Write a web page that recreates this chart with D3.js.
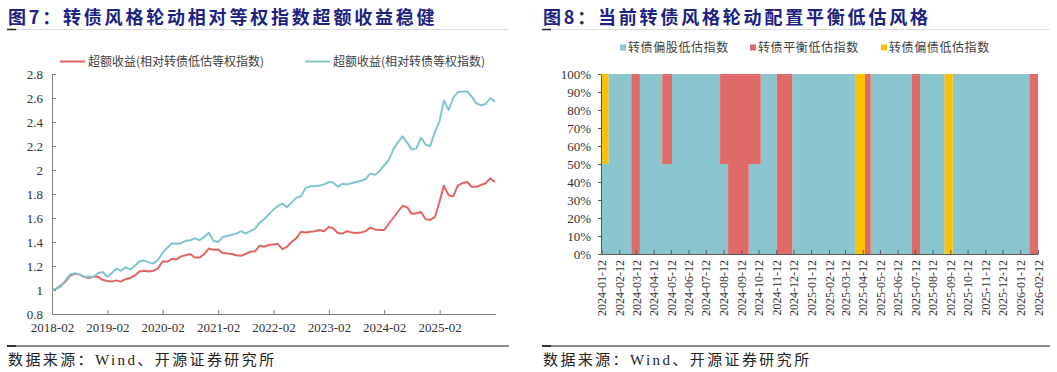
<!DOCTYPE html>
<html>
<head>
<meta charset="utf-8">
<script src="https://cdn.jsdelivr.net/npm/d3@7"></script>
<style>
    body { margin: 0; background: #fff; }
    svg { display: block; }
    text { font-family: "Liberation Serif", "Noto Sans CJK SC", serif; }
    .cjk { font-family: "Noto Sans CJK SC", sans-serif; }
</style>
</head>
<body>
<svg id="chart" width="1057" height="372"></svg>
<script>
'use strict';

const leftTitle = '图7：转债风格轮动相对等权指数超额收益稳健';
const rightTitle = '图8：当前转债风格轮动配置平衡低估风格';
const sourceNote = '数据来源：Wind、开源证券研究所';

// figure 7: monthly excess return, starting 2018-02
const excessNames = ['超额收益(相对转债低估等权指数)', '超额收益(相对转债等权指数)'];
const excessStart = '2018-02';
const excessVsLowVal = [
    1.00, 1.01, 1.04, 1.07, 1.12, 1.135, 1.13, 1.11, 1.10, 1.11, 1.11, 1.085,
    1.075, 1.07, 1.08, 1.07, 1.09, 1.10, 1.12, 1.155, 1.16, 1.155, 1.16, 1.18,
    1.24, 1.235, 1.26, 1.255, 1.28, 1.29, 1.30, 1.27, 1.27, 1.30, 1.345, 1.335,
    1.338, 1.31, 1.305, 1.30, 1.29, 1.285, 1.30, 1.32, 1.32, 1.37, 1.36, 1.375,
    1.38, 1.385, 1.34, 1.36, 1.40, 1.43, 1.485, 1.48, 1.485, 1.49, 1.50, 1.49,
    1.525, 1.515, 1.475, 1.47, 1.49, 1.48, 1.475, 1.48, 1.49, 1.52, 1.505, 1.50,
    1.50, 1.55, 1.60, 1.65, 1.70, 1.69, 1.635, 1.64, 1.65, 1.59, 1.585, 1.61,
    1.74, 1.87, 1.79, 1.78, 1.87, 1.89, 1.90, 1.86, 1.86, 1.875, 1.89, 1.93,
    1.90
];
const excessVsEqual = [
    1.00, 1.01, 1.03, 1.08, 1.13, 1.14, 1.13, 1.11, 1.11, 1.11, 1.14, 1.15,
    1.11, 1.14, 1.18, 1.16, 1.19, 1.17, 1.20, 1.24, 1.245, 1.23, 1.22, 1.25,
    1.31, 1.35, 1.39, 1.385, 1.39, 1.41, 1.415, 1.43, 1.415, 1.44, 1.478, 1.41,
    1.40, 1.44, 1.45, 1.46, 1.47, 1.49, 1.47, 1.49, 1.51, 1.56, 1.59, 1.63,
    1.67, 1.70, 1.72, 1.69, 1.73, 1.77, 1.78, 1.85, 1.865, 1.865, 1.87, 1.88,
    1.90, 1.895, 1.86, 1.885, 1.88, 1.89, 1.90, 1.91, 1.925, 1.97, 1.96, 1.99,
    2.04, 2.08, 2.17, 2.23, 2.28, 2.23, 2.17, 2.18, 2.27, 2.21, 2.20, 2.32,
    2.41, 2.58, 2.50, 2.60, 2.65, 2.655, 2.655, 2.61, 2.555, 2.54, 2.55, 2.60,
    2.57
];
const excessYTicks = [0.8, 1, 1.2, 1.4, 1.6, 1.8, 2, 2.2, 2.4, 2.6, 2.8];
const excessXTicks = ['2018-02', '2019-02', '2020-02', '2021-02', '2022-02', '2023-02', '2024-02', '2025-02'];

// figure 8: style allocation, change points
const styleNames = ['转债偏股低估指数', '转债平衡低估指数', '转债偏债低估指数'];
const styleDates = [
    '2024-01-12', '2024-01-24', '2024-03-04', '2024-03-19', '2024-04-27', '2024-05-14',
    '2024-08-06', '2024-08-20', '2024-09-25', '2024-10-16', '2024-11-13', '2024-12-10',
    '2025-03-31', '2025-04-16', '2025-04-26', '2025-07-07', '2025-07-21', '2025-09-02',
    '2025-09-16', '2026-01-28', '2026-02-12'
];
const equityTilt = [0.5, 1, 0, 1, 0.5, 1, 0.5, 0, 0.5, 1, 0, 1, 0, 0, 1, 0, 1, 0, 1, 0, 0];
const balancedStyle = [0, 0, 1, 0, 0.5, 0, 0.5, 1, 0.5, 0, 1, 0, 0, 1, 0, 1, 0, 0, 0, 1, 1];
const debtTilt = [0.5, 0, 0, 0, 0, 0, 0, 0, 0, 0, 0, 0, 1, 0, 0, 0, 0, 1, 0, 0, 0];
const styleYTicks = [0, 0.1, 0.2, 0.3, 0.4, 0.5, 0.6, 0.7, 0.8, 0.9, 1];

const RED = '#e06666';
const TEAL = '#82c5cf';
const AREA_COLORS = ['#8bc5cd', '#e06a6a', '#ffc000'];
const NAVY = '#1c2280';

const parseMonth = d3.timeParse('%Y-%m');
const parseDay = d3.timeParse('%Y-%m-%d');

const svg = d3.select('#chart');

function frame(x0, x1, title) {
    svg.append('text')
        .attr('class', 'cjk')
        .attr('x', x0)
        .attr('y', 24)
        .attr('fill', NAVY)
        .style('font-size', '18px')
        .style('font-weight', 'bold')
        .style('letter-spacing', '2.8px')
        .text(title);

    svg.append('line')
        .attr('x1', x0).attr('x2', x1)
        .attr('y1', 29.5).attr('y2', 29.5)
        .attr('stroke', '#dcdcdc');
    svg.append('line')
        .attr('x1', x0 - 1).attr('x2', x0 + 8)
        .attr('y1', 29.5).attr('y2', 29.5)
        .attr('stroke', '#222').attr('stroke-width', 1.5);

    svg.append('line')
        .attr('x1', x0 - 1).attr('x2', x1)
        .attr('y1', 346).attr('y2', 346)
        .attr('stroke', '#8c8c8c').attr('stroke-width', 2);
    svg.append('line')
        .attr('x1', x0 - 1).attr('x2', x0 + 8)
        .attr('y1', 346).attr('y2', 346)
        .attr('stroke', '#333').attr('stroke-width', 2);

    svg.append('text')
        .attr('x', x0)
        .attr('y', 365)
        .attr('fill', '#222')
        .style('font-size', '15px')
        .style('letter-spacing', '2.4px')
        .text(sourceNote);
}

function styleAxis(g, color) {
    g.select('.domain').attr('stroke', color);
    g.selectAll('.tick line').attr('stroke', color);
    g.selectAll('.tick text').attr('fill', '#333').style('font-size', '13px');
}

function drawExcess() {
    const x = d3.scaleTime()
        .domain([parseMonth('2018-02'), parseMonth('2026-02')])
        .range([52, 495]);
    const y = d3.scaleLinear()
        .domain([0.8, 2.8])
        .range([314, 74]);

    const start = parseMonth(excessStart);
    const dates = excessVsLowVal.map((_, i) => d3.timeMonth.offset(start, i));

    const gx = svg.append('g')
        .attr('transform', 'translate(0,314)')
        .call(d3.axisBottom(x)
            .tickValues(excessXTicks.map(parseMonth))
            .tickFormat(d3.timeFormat('%Y-%m'))
            .tickSizeInner(-4).tickSizeOuter(0).tickPadding(9));
    styleAxis(gx, '#7f7f7f');

    const gy = svg.append('g')
        .attr('transform', 'translate(52,0)')
        .call(d3.axisLeft(y)
            .tickValues(excessYTicks)
            .tickFormat((d) => String(+d.toFixed(1)))
            .tickSizeInner(-4).tickSizeOuter(0).tickPadding(9));
    styleAxis(gy, '#7f7f7f');

    const line = d3.line()
        .x((d, i) => x(dates[i]))
        .y((d) => y(d));

    [[excessVsLowVal, RED], [excessVsEqual, TEAL]].forEach(([values, color]) => {
        svg.append('path')
            .datum(values)
            .attr('d', line)
            .attr('fill', 'none')
            .attr('stroke', color)
            .attr('stroke-width', 2)
            .attr('stroke-linejoin', 'round');
    });

    // legend
    const legend = [[60, RED], [305, TEAL]];
    legend.forEach(([lx, color], i) => {
        svg.append('line')
            .attr('x1', lx).attr('x2', lx + 25)
            .attr('y1', 61.5).attr('y2', 61.5)
            .attr('stroke', color).attr('stroke-width', 2);
        svg.append('text')
            .attr('class', 'cjk')
            .attr('x', lx + 28)
            .attr('y', 61.5)
            .attr('dy', '0.35em')
            .attr('fill', '#404040')
            .style('font-size', '12px')
            .text(excessNames[i]);
    });
}

function drawStyle() {
    const x = d3.scaleTime()
        .domain([parseDay('2024-01-12'), parseDay('2026-02-12')])
        .range([601.5, 1038]);
    const y = d3.scaleLinear()
        .domain([0, 1])
        .range([254, 74]);

    const rows = styleDates.map((d, i) => ({
        date: parseDay(d),
        0: equityTilt[i],
        1: balancedStyle[i],
        2: debtTilt[i]
    }));

    const series = d3.stack().keys([0, 1, 2])(rows);

    const area = d3.area()
        .curve(d3.curveStepAfter)
        .x((d) => x(d.data.date))
        .y0((d) => y(d[0]))
        .y1((d) => y(d[1]));

    svg.append('g')
        .selectAll('path')
        .data(series)
        .enter()
        .append('path')
        .attr('d', area)
        .attr('fill', (d, i) => AREA_COLORS[i]);

    const monthTicks = d3.range(26).map((i) => d3.timeMonth.offset(parseDay('2024-01-12'), i));

    const gx = svg.append('g')
        .attr('transform', 'translate(0,254)')
        .call(d3.axisBottom(x)
            .tickValues(monthTicks)
            .tickFormat(d3.timeFormat('%Y-%m-%d'))
            .tickSizeInner(-4).tickSizeOuter(0));
    styleAxis(gx, '#595959');
    gx.selectAll('.tick text')
        .attr('transform', 'rotate(-90)')
        .attr('text-anchor', 'end')
        .attr('x', -6)
        .attr('y', 0)
        .attr('dy', '0.35em')
        .style('font-size', '12px');

    const gy = svg.append('g')
        .attr('transform', 'translate(601,0)')
        .call(d3.axisLeft(y)
            .tickValues(styleYTicks)
            .tickFormat(d3.format('.0%'))
            .tickSizeInner(3).tickSizeOuter(0).tickPadding(7));
    styleAxis(gy, '#595959');

    // legend
    const legendX = [620, 750, 881];
    legendX.forEach((lx, i) => {
        svg.append('rect')
            .attr('x', lx).attr('y', 44.5)
            .attr('width', 6).attr('height', 6)
            .attr('fill', AREA_COLORS[i]);
        svg.append('text')
            .attr('class', 'cjk')
            .attr('x', lx + 8)
            .attr('y', 47.5)
            .attr('dy', '0.35em')
            .attr('fill', '#404040')
            .style('font-size', '12px')
            .style('letter-spacing', '0.6px')
            .text(styleNames[i]);
    });
}

frame(8, 509, leftTitle);
frame(543, 1050, rightTitle);
drawExcess();
drawStyle();
</script>
</body>
</html>
